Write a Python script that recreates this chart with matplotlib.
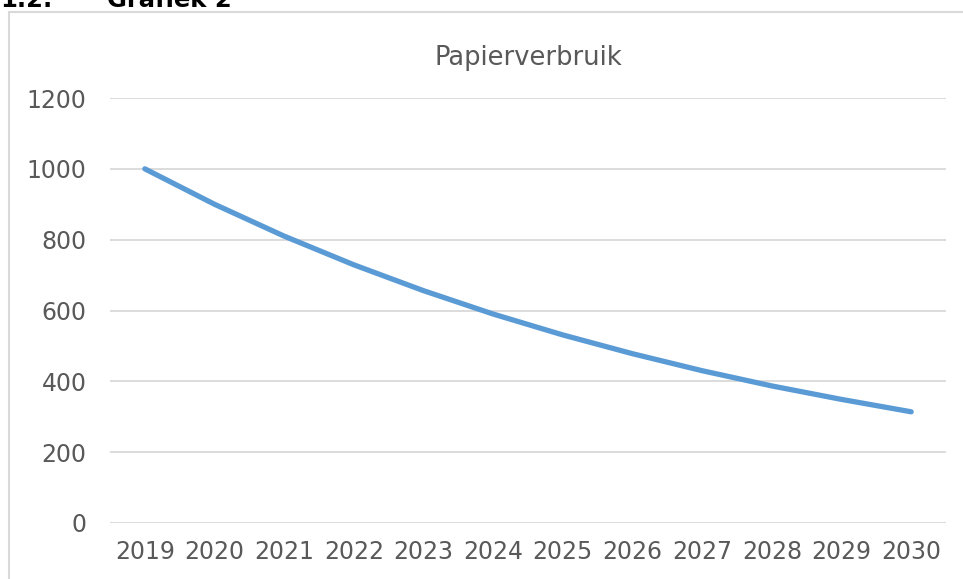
import matplotlib.pyplot as plt
from matplotlib.patches import Rectangle

# Data
jaren = ["2019", "2020", "2021", "2022", "2023", "2024",
         "2025", "2026", "2027", "2028", "2029", "2030"]
verbruik = [1000, 900, 810, 729, 656, 590, 531, 478, 430, 387, 349, 314]
y_ticks = [0, 200, 400, 600, 800, 1000, 1200]

plt.rcParams['font.family'] = ['DejaVu Sans']

fig = plt.figure(figsize=(9.63, 5.79), dpi=100)
ax = fig.add_axes([110/963, 1 - 523/579, 836/963, 425/579])

x = list(range(len(jaren)))
ax.plot(x, verbruik, color="#5B9BD5", linewidth=3.8, solid_capstyle="round")

ax.set_xlim(-0.5, len(jaren) - 0.5)
ax.set_ylim(0, 1200)
ax.set_xticks(x)
ax.set_xticklabels(jaren)
ax.set_yticks(y_ticks)

ax.tick_params(axis="both", length=0, labelsize=17, colors="#595959")
ax.tick_params(axis="x", pad=12)
ax.tick_params(axis="y", pad=17)
ax.grid(axis="y", color="#D9D9D9", linewidth=1.3)
ax.set_axisbelow(True)
for s in ax.spines.values():
    s.set_visible(False)

ax.set_title("Papierverbruik", fontsize=18.5, color="#595959", pad=24)

# chart frame
fig.patches.append(Rectangle((9/963, -0.1), 1.1, 1 - 12/579 + 0.1,
                             transform=fig.transFigure, fill=False,
                             edgecolor="#D9D9D9", linewidth=1.5))

# section heading (cut off at top)
fig.text(0, 1 - 7/579, "1.2.", fontsize=17.5, fontweight="bold", va="baseline")
fig.text(107/963, 1 - 7/579, "Grafiek 2", fontsize=17.5, fontweight="bold", va="baseline")

fig.savefig("out.png", dpi=100)
